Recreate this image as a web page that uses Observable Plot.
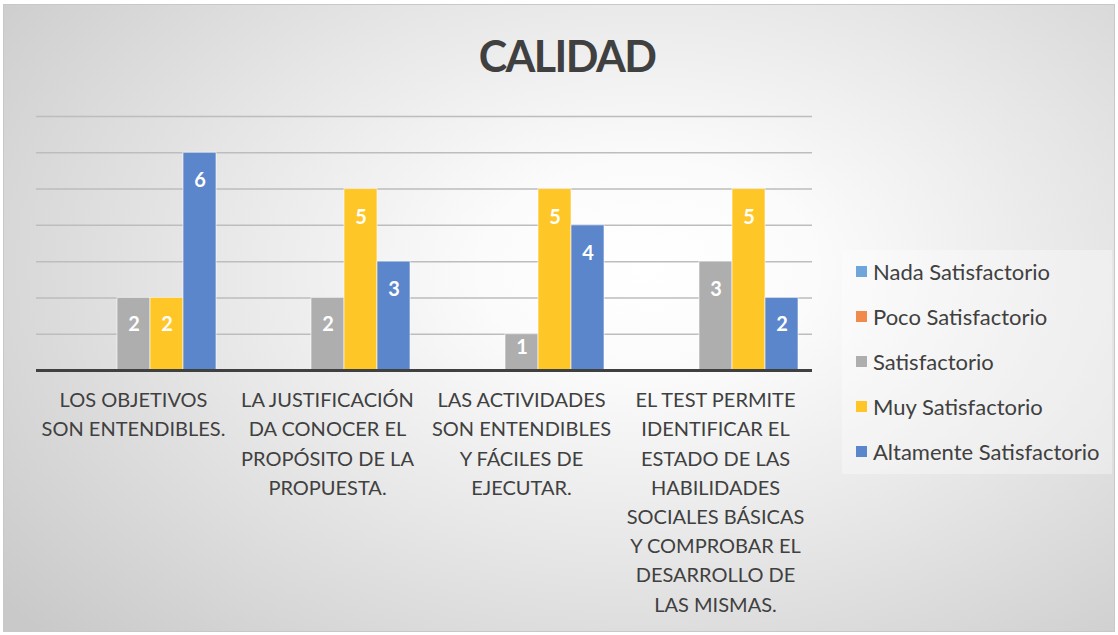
<!DOCTYPE html>
<html><head><meta charset="utf-8">
<script src="https://cdn.jsdelivr.net/npm/d3@7"></script>
<script src="https://cdn.jsdelivr.net/npm/@observablehq/plot@0.6"></script>
<style>
html,body{margin:0;padding:0;background:#fff;}
#chart{position:relative;width:1118px;height:635px;overflow:hidden;font-family:Lato,"Open Sans",sans-serif;}
#bg{position:absolute;left:3px;top:4px;width:1112px;height:628px;box-sizing:border-box;border:1px solid #c8c8c8;
  background:radial-gradient(ellipse 75% 85% at 58% 42%, #ffffff 0%, #fbfbfb 20%, #e6e6e6 55%, #c9c9c9 100%);}
#plot{position:absolute;left:0;top:0;}
#title{position:absolute;left:0;width:1134px;top:34px;text-align:center;font-size:43px;font-weight:700;line-height:43px;color:#404040;letter-spacing:-1.6px;}
#legend{position:absolute;left:842px;top:250px;width:270px;height:224px;background:rgba(255,255,255,0.35);}
.li{position:absolute;left:14px;height:24px;display:flex;align-items:center;font-size:22px;color:#404040;white-space:nowrap;}
.sw{width:11px;height:11px;margin-right:6px;flex:none;}
</style></head>
<body>
<div id="chart"><div id="bg"></div><div id="plot"></div><div id="title"></div><div id="legend"></div></div>
<script>
const title = "CALIDAD";
const categories = [
  "LOS OBJETIVOS\nSON ENTENDIBLES.",
  "LA JUSTIFICACIÓN\nDA CONOCER EL\nPROPÓSITO DE LA\nPROPUESTA.",
  "LAS ACTIVIDADES\nSON ENTENDIBLES\nY FÁCILES DE\nEJECUTAR.",
  "EL TEST PERMITE\nIDENTIFICAR EL\nESTADO DE LAS\nHABILIDADES\nSOCIALES BÁSICAS\nY COMPROBAR EL\nDESARROLLO DE\nLAS MISMAS."
];
const series = ["Nada Satisfactorio","Poco Satisfactorio","Satisfactorio","Muy Satisfactorio","Altamente Satisfactorio"];
const nada = [0,0,0,0];
const poco = [0,0,0,0];
const satisfactorio = [2,2,1,3];
const muySatisfactorio = [2,5,5,5];
const altamenteSatisfactorio = [6,3,4,2];
const colors = ["#6EA6DC","#F08B4C","#AEAEAE","#FFC628","#5B86CC"];

document.getElementById("title").textContent = title;

const seriesValues = [nada, poco, satisfactorio, muySatisfactorio, altamenteSatisfactorio];
const rows = categories.flatMap((c, i) => series.map((s, j) => ({category: c, series: s, value: seriesValues[j][i]})));

const chart = Plot.plot({
  width: 1118, height: 635,
  marginLeft: 35, marginRight: 305, marginTop: 116, marginBottom: 265,
  style: {background: "transparent", fontFamily: "Lato, sans-serif", overflow: "visible"},
  fx: {domain: categories, padding: 0, axis: null},
  x: {domain: series, paddingInner: 0, paddingOuter: 0.377, axis: null},
  y: {domain: [0, 7], axis: null},
  color: {domain: series, range: colors},
  marks: [
    Plot.gridY({ticks: 7, stroke: "#bdbdbd", strokeOpacity: 1, strokeWidth: 1.5}),
    Plot.barY(rows.filter(d => d.value > 0), {fx: "category", x: "series", y: "value", fill: "series", stroke: "#ffffff", strokeWidth: 1, strokeOpacity: 0.6}),
    Plot.text(rows.filter(d => d.value > 0), {fx: "category", x: "series", y: d => Math.max(d.value - 0.78, d.value * 0.63), text: "value", fill: "white", fontWeight: "bold", fontSize: 20}),
    Plot.ruleY([0], {stroke: "#404040", strokeWidth: 3}),
    Plot.axisFx({anchor: "bottom", tickSize: 0, tickPadding: 16, fontSize: 20, lineHeight: 1.46, fill: "#404040", label: null})
  ]
});
document.getElementById("plot").appendChild(chart);

const legend = document.getElementById("legend");
series.forEach((s, i) => {
  const item = document.createElement("div");
  item.className = "li";
  item.style.top = (9 + i * 45) + "px";
  const sw = document.createElement("span");
  sw.className = "sw";
  sw.style.background = colors[i];
  const tx = document.createElement("span");
  tx.textContent = s;
  item.appendChild(sw); item.appendChild(tx);
  legend.appendChild(item);
});
</script>
</body></html>
